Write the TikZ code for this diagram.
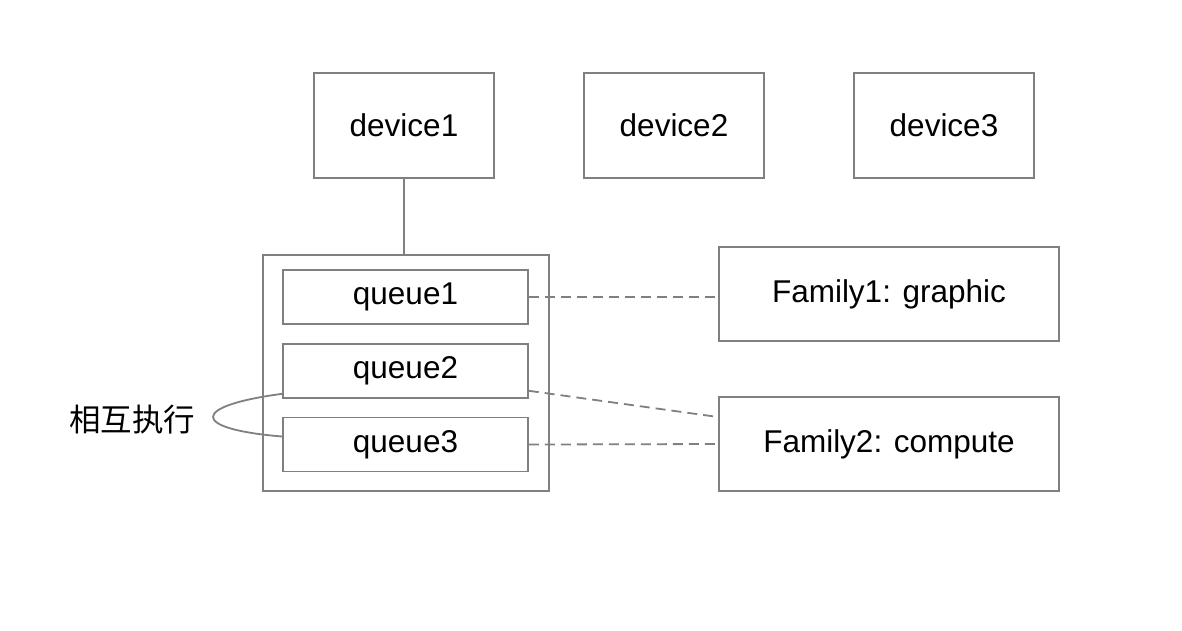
\documentclass[tikz,border=0pt]{standalone}
\usepackage{fontspec}
\setmainfont{Liberation Sans}
\newfontfamily\cjkfont{Noto Sans CJK SC}
\usetikzlibrary{calc}
\definecolor{linegray}{RGB}{128,128,128}
\tikzset{
	box/.style={draw=linegray, line width=2pt, inner sep=0pt, font=\fontsize{31.5}{36}\selectfont},
	qbox/.style={box, line width=1.6pt, minimum width=245pt, minimum height=54pt},
	devbox/.style={box, minimum width=180pt, minimum height=105pt},
	fambox/.style={box, minimum width=340pt, minimum height=94pt},
	link/.style={draw=linegray, line width=1.8pt, dash pattern=on 10pt off 6pt},
}

\begin{document}
\begin{tikzpicture}[x=1pt, y=-1pt]
		%%%%% START %%%%%
		
		\fill[white] (0, 0) rectangle (1182, 630);
		\useasboundingbox (0, 0) rectangle (1182, 630);
		
		\node[devbox] (dev1) at (404, 125.5) {device1};
		\node[devbox] (dev2) at (674, 125.5) {device2};
		\node[devbox] (dev3) at (944, 125.5) {device3};
		
		\node[box, minimum width=286pt, minimum height=236pt] (qgroup) at (406, 373) {};
		\node[qbox] (q1) at (405.5, 297) {queue1};
		\node[qbox] (q2) at (405.5, 371) {queue2};
		\node[qbox] (q3) at (405.5, 444.5) {queue3};
		
		\node[fambox] (fam1) at (889, 294) {Family1: graphic};
		\node[fambox] (fam2) at (889, 444) {Family2: compute};
		
		\draw[linegray, line width=2pt] (dev1.south) -- (dev1.south |- qgroup.north);
		
		\draw[link] (q1.east) -- (q1.east -| fam1.west);
		\draw[link] ([yshift=8pt]q2.south east) -- ([yshift=-21pt]fam2.north west);
		\draw[link] (q3.east) -- (fam2.west);
		
		\coordinate (mtop) at ([yshift=5pt]q2.south west);
		\coordinate (mbot) at ([yshift=8pt]q3.west);
		\draw[linegray, line width=1.8pt] (mtop) .. controls (190, 406) and (190, 429) .. (mbot);
		\node[font=\fontsize{31.5}{36}\selectfont\cjkfont] (mutual) at (132, 420) {相互执行};
		
		%%%%% END %%%%%
	\end{tikzpicture}
\end{document}
